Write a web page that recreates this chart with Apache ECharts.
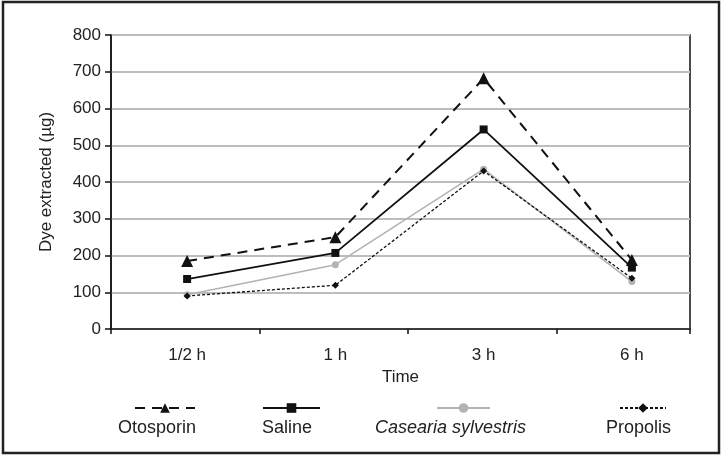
<!DOCTYPE html>
<html>
<head>
<meta charset="utf-8">
<script src="https://cdn.jsdelivr.net/npm/echarts@6/dist/echarts.min.js"></script>
<style>
  html, body { margin: 0; padding: 0; background: #fff; }
  #main { width: 724px; height: 455px; }
</style>
</head>
<body>
<div id="main"></div>
<script>
// data
var times = ['1/2 h', '1 h', '3 h', '6 h'];
var otosporin = [185, 250, 682, 188];
var saline = [136, 207, 543, 167];
var casearia = [93, 175, 435, 129];
var propolis = [90, 119, 430, 138];
var yTicks = [0, 800, 100];

var font = 'Liberation Sans, Arial, Helvetica, sans-serif';

var chart = echarts.init(document.getElementById('main'));

function legendBox(name, left, w) {
    return {
        data: [name],
        left: left,
        top: 402,
        itemWidth: w,
        itemHeight: 12,
        padding: 0,
        formatter: function () { return ''; },
        textStyle: { fontSize: 1 },
        selectedMode: false
    };
}

var option = {
    animation: false,
    backgroundColor: '#fff',
    // grid 0: frame, ticks, gridlines. grid 1: the data (bands a bit wider than the frame, as in the figure)
    grid: [{
        left: 111, right: 34, top: 35, bottom: 126,
        show: true, borderColor: '#111', borderWidth: 1.5
    }, {
        left: 113, right: 18, top: 35, bottom: 126
    }],
    xAxis: [{
        type: 'value',
        gridIndex: 0,
        min: 0,
        max: 3.9,
        interval: 1,
        axisLine: { lineStyle: { color: '#111', width: 1.5 } },
        axisTick: { show: true, length: 5, lineStyle: { color: '#111', width: 1.5 } },
        axisLabel: { show: false },
        splitLine: { show: false },
        name: 'Time',
        nameLocation: 'middle',
        nameGap: 40,
        nameTextStyle: { color: '#222', fontSize: 17, fontFamily: font }
    }, {
        type: 'category',
        gridIndex: 1,
        data: times,
        boundaryGap: true,
        axisLine: { show: false },
        axisTick: { show: false },
        splitLine: { show: false },
        axisLabel: { margin: 18, color: '#222', fontSize: 17, fontFamily: font }
    }],
    yAxis: [{
        type: 'value',
        gridIndex: 0,
        min: yTicks[0],
        max: yTicks[1],
        interval: yTicks[2],
        axisLine: { show: true, lineStyle: { color: '#111', width: 1.5 } },
        axisTick: { show: true, length: 6, lineStyle: { color: '#111', width: 1.5 } },
        axisLabel: { margin: 10, color: '#222', fontSize: 17, fontFamily: font },
        splitLine: { lineStyle: { color: '#bdbdbd', width: 2 } },
        name: 'Dye extracted (µg)',
        nameLocation: 'middle',
        nameGap: 56,
        nameTextStyle: { color: '#222', fontSize: 17, fontFamily: font }
    }, {
        type: 'value',
        gridIndex: 1,
        min: yTicks[0],
        max: yTicks[1],
        interval: yTicks[2],
        show: false
    }],
    legend: [
        legendBox('Otosporin', 134, 60),
        legendBox('Saline', 262, 57),
        legendBox('Casearia sylvestris', 436, 53),
        legendBox('Propolis', 619, 46)
    ],
    graphic: [
        {
            type: 'rect',
            shape: { x: 3, y: 2, width: 716, height: 451 },
            style: { fill: 'none', stroke: '#222', lineWidth: 2.5 },
            silent: true
        },
        { type: 'text', left: 118, top: 419, style: { text: 'Otosporin', font: '18px ' + font, fill: '#222' } },
        { type: 'text', left: 262, top: 419, style: { text: 'Saline', font: '18px ' + font, fill: '#222' } },
        { type: 'text', left: 375, top: 419, style: { text: 'Casearia sylvestris', font: 'italic 18px ' + font, fill: '#222' } },
        { type: 'text', left: 606, top: 419, style: { text: 'Propolis', font: '18px ' + font, fill: '#222' } }
    ],
    series: [{
        name: 'Otosporin',
        type: 'line',
        xAxisIndex: 1, yAxisIndex: 1,
        data: otosporin,
        symbol: 'triangle',
        symbolSize: 12,
        itemStyle: { color: '#111' },
        lineStyle: { color: '#111', width: 2, type: [10, 7] }
    }, {
        name: 'Saline',
        type: 'line',
        xAxisIndex: 1, yAxisIndex: 1,
        data: saline,
        symbol: 'rect',
        symbolSize: 8,
        itemStyle: { color: '#111' },
        lineStyle: { color: '#111', width: 1.8 }
    }, {
        name: 'Casearia sylvestris',
        type: 'line',
        xAxisIndex: 1, yAxisIndex: 1,
        data: casearia,
        symbol: 'circle',
        symbolSize: 7,
        itemStyle: { color: '#b3b3b3' },
        lineStyle: { color: '#b3b3b3', width: 1.6 }
    }, {
        name: 'Propolis',
        type: 'line',
        xAxisIndex: 1, yAxisIndex: 1,
        data: propolis,
        symbol: 'diamond',
        symbolSize: 7,
        itemStyle: { color: '#111' },
        lineStyle: { color: '#111', width: 1.3, type: [3, 2] }
    }]
};

chart.setOption(option);
</script>
</body>
</html>
